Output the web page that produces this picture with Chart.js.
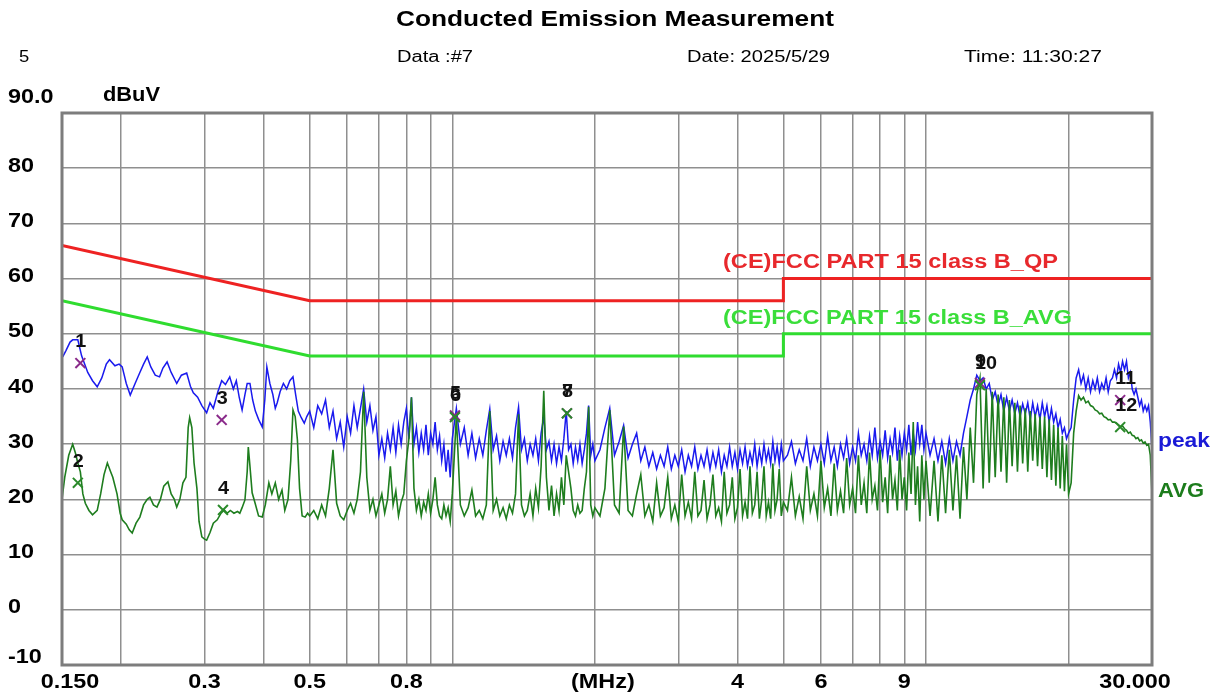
<!DOCTYPE html>
<html><head><meta charset="utf-8">
<script src="https://cdn.jsdelivr.net/npm/chart.js@4.4.0/dist/chart.umd.min.js"></script>
<style>html,body{margin:0;padding:0;background:#fff;}canvas{display:block}</style>
</head><body>
<canvas id="c" width="1217" height="695"></canvas>
<script>
// ---------- DATA ----------
const titleText = 'Conducted Emission Measurement';
const headerTexts = ['5', 'Data :#7', 'Date: 2025/5/29', 'Time: 11:30:27'];
const yUnit = 'dBuV';
const yLabelValues = [90, 80, 70, 60, 50, 40, 30, 20, 10, 0, -10];
const yLabelTexts = ['90.0', '80', '70', '60', '50', '40', '30', '20', '10', '0', '-10'];
const xGridValues = [0.2,0.3,0.4,0.5,0.6,0.7,0.8,0.9,1,2,3,4,5,6,7,8,9,10,20];
const xLabelValues = [0.15, 0.3, 0.5, 0.8, 2, 4, 6, 9, 30];
const xLabelTexts = ['0.150', '0.3', '0.5', '0.8', '(MHz)', '4', '6', '9', '30.000'];

// limit lines (MHz, dBuV)
const limitFreq = [0.15, 0.5, 5, 5, 30];
const qpLimit = [66, 56, 56, 60, 60];
const avgLimit = [56, 46, 46, 50, 50];
const qpLimitName = '(CE)FCC PART 15 class B_QP';
const avgLimitName = '(CE)FCC PART 15 class B_AVG';

// low band (0.15 - 0.5 MHz)
const peakFreqLow = [0.1505,0.153,0.156,0.158,0.162,0.165,0.170,0.174,0.178,0.182,0.186,0.189,0.194,0.198,0.201,0.205,0.209,0.214,0.219,0.223,0.227,0.231,0.236,0.241,0.245,0.250,0.255,0.262,0.268,0.275,0.280,0.284,0.290,0.296,0.303,0.308,0.313,0.320,0.326,0.332,0.339,0.345,0.350,0.355,0.360,0.365,0.369,0.374,0.379,0.384,0.390,0.397,0.402,0.406,0.412,0.418,0.423,0.427,0.433,0.440,0.447,0.454,0.461,0.467,0.473,0.480,0.487,0.493];
const peakLevelLow = [45.8,47,48.5,48.9,48.9,46,43,41.5,40.4,42,44.5,45.3,44.2,44.5,44,41,38.9,41,43,44.5,45.8,44,42.5,42.2,43.8,44.9,43,41,42.5,42.9,40.5,39.3,38.5,37,35.7,37.5,36.5,39.5,41.5,40.8,42.2,40,41.5,38.5,36.2,39,41,41,38,36,34.5,33.1,38,44,41,39,36.5,37.5,39.5,41,40,41.5,42.2,39,36,34.8,33.8,35];
const avgFreqLow = [0.150,0.152,0.155,0.158,0.160,0.162,0.164,0.166,0.168,0.171,0.174,0.178,0.181,0.184,0.187,0.190,0.192,0.196,0.199,0.201,0.205,0.208,0.211,0.215,0.219,0.223,0.227,0.230,0.234,0.238,0.242,0.246,0.251,0.255,0.259,0.262,0.266,0.270,0.274,0.277,0.279,0.282,0.285,0.289,0.292,0.296,0.300,0.303,0.308,0.313,0.319,0.325,0.330,0.335,0.340,0.346,0.352,0.356,0.360,0.365,0.369,0.371,0.374,0.378,0.383,0.390,0.397,0.403,0.410,0.416,0.423,0.430,0.437,0.443,0.450,0.456,0.461,0.466,0.471,0.476,0.482,0.489,0.495];
const avgLevelLow = [20,24,28,30,28.5,26.6,25,21,19.3,18,17.2,18,21,24.5,26.6,25,24,21,17.5,16.3,15.5,14.5,13.9,15.7,16.8,19,20,20.4,19,18.6,20,22.4,23.2,21,20,18.6,20,23,24,33,34.8,33,26.6,22,16,13.2,12.8,12.6,14,15.7,16.3,17.5,18.1,17.5,18,17.5,17.8,17.5,18.5,19.9,25,29.5,26,21.2,19.5,17,16.8,19,23,21,23,20,21.7,18,20,27,36.2,35,30.8,22,17,16.8,17.5];

// sweep (0.5 - 30 MHz), shared by peak and AVG
const sweepFreq = [
0.50,0.51,0.52,0.53,0.54,0.55,0.56,0.57,0.58,0.59,0.60,0.61,0.62,0.63,0.64,0.65,0.66,0.67,0.68,0.69,0.70,0.71,0.72,0.73,0.74,0.75,0.76,0.77,0.78,0.79,0.80,0.81,0.82,0.83,0.84,0.85,0.86,0.87,0.88,0.89,0.90,0.91,0.92,0.93,0.94,0.95,0.96,0.97,0.98,0.99,1.00,
1.02,1.04,1.06,1.08,1.10,1.12,1.14,1.16,1.18,1.20,1.22,1.24,1.26,1.28,1.30,1.32,1.34,1.36,1.38,1.40,1.42,1.44,1.46,1.48,1.50,1.52,1.54,1.56,1.58,1.60,1.62,1.64,1.66,1.68,1.70,1.72,1.74,1.76,1.78,1.80,1.82,1.84,1.86,1.88,1.90,1.92,1.94,1.96,1.98,2.00,
2.05,2.10,2.15,2.20,2.25,2.30,2.35,2.40,2.45,2.50,2.55,2.60,2.65,2.70,2.75,2.80,2.85,2.90,2.95,3.00,3.05,3.10,3.15,3.20,3.25,3.30,3.35,3.40,3.45,3.50,3.55,3.60,3.65,3.70,3.75,3.80,3.85,3.90,3.95,4.00,4.05,4.10,4.15,4.20,4.25,4.30,4.35,4.40,4.45,4.50,4.55,4.60,4.65,4.70,4.75,4.80,4.85,4.90,4.95,5.00,
5.1,5.2,5.3,5.4,5.5,5.6,5.7,5.8,5.9,6.0,6.1,6.2,6.3,6.4,6.5,6.6,6.7,6.8,6.9,7.0,7.1,7.2,7.3,7.4,7.5,7.6,7.7,7.8,7.9,8.0,8.1,8.2,8.3,8.4,8.5,8.6,8.7,8.8,8.9,9.0,9.1,9.2,9.3,9.4,9.5,9.6,9.7,9.8,9.9,10.0,
10.2,10.4,10.6,10.8,11.0,11.2,11.4,11.6,11.8,12.0,12.2,12.4,12.6,12.8,13.0,13.2,13.4,13.6,13.8,14.0,14.2,14.4,14.6,14.8,15.0,15.2,15.4,15.6,15.8,16.0,16.2,16.4,16.6,16.8,17.0,17.2,17.4,17.6,17.8,18.0,18.2,18.4,18.6,18.8,19.0,19.2,19.4,19.6,19.8,20.0,
20.25,20.50,20.75,21.00,21.25,21.50,21.75,22.00,22.25,22.50,22.75,23.00,23.25,23.50,23.75,24.00,24.25,24.50,24.75,25.00,25.25,25.50,25.75,26.00,26.25,26.50,26.75,27.00,27.25,27.50,27.75,28.00,28.25,28.50,28.75,29.00,29.25,29.50,29.75,30.00];
const peakLevelSweep = [
36,33,37,35.5,38,33,36,31,34,29.5, 35,32,37,33,36.5,40,34,37,32.5,35, 28,31,27.5,32,29,33,28.5,33.5,30,34, 36.5,31,38.5,30,33,28.5,32,29,33.5,28, 32,30,34,29,31.5,27,30,25,29,24, 31,
36.5,30,33,28,32,27.5,31,28,32.5,36.4, 29,31.5,27,30.5,28,31,27.5,33,36.7,29, 31,27,30,28,31,27,32,35,29,30.5, 27,30,26.5,29.5,27,31,36,29,30,26.5, 29.5,27,30,26.5,29,32,37,28,30,27,
29,33,36.5,28,30.5,33.4,27.5,30,32,27, 29.5,26,28.5,25.5,28,26,29.5,25.5,28,26, 29,25,28,26,29.5,25.5,28,26,29,25.5, 28.5,26,29,25,28,26,29.5,26,28.5,25.5, 29,26.5,29.5,26,28.5,26.5,30,26,29,26.5, 30,27,29,26.5,30.5,27,29.5,26.5,30,27,
28,30.5,26.5,29,27,31,26,29.5,27,30, 26.5,31.5,27,29.5,26,30,27.5,31,26.5,29.5, 27,32,28,30,27,31.5,28,33,27.5,30.5, 28,32.5,27.5,31,28.5,33,27,31.5,28,32, 29,33.5,28,32,29,34,30,33.5,29,32,
28,31,27,30.5,26.5,31,27,30.5,28,32, 35,38,40,42.5,41.5,42,40,41,38,39.5, 37,39,36,38.5,36,38,35.5,37.5,35,37.3, 35.5,37.5,34.5,37.5,35,37,34.5,37.5,35,37, 34,36.5,34,35.5,33,34.5,32,33,31,32,
33,38,42,43.5,41,42.5,40,42,39.5,41.5, 40,42,39.5,41,40,42,39.5,41.5,42,43.5, 42,44.5,43,45,43.5,45,42,43,40,39, 40,38.5,37,38,36,37,36,37,34,29];
const avgLevelSweep = [
17,18,16.5,19,17,22,29,19.3,17,16.3, 18,19.3,17.5,20,25,39.5,24,18,20,17, 19,21,17.5,20,26,19,21.5,17,19.5,21, 27,31,38.5,22,18,20,17,19.5,18,21, 17.5,20,24,19,17,16.5,19,17,18.5,16, 21,
35,19,17,18.5,21.7,17,18,16.5,19,36, 18,20,17,18.5,16.5,19,17.5,21,35.4,19, 17,18,21,17,22,18.5,26,39.7,24,18, 22.5,17,21,18,24,19,28,25,22,18, 17,19,17.5,18,22,25,36.8,19,17,18.5,
17,22,36.2,19,17.5,33.2,18,17,21,24.5, 17,19,16,23,17,18.5,24,16.5,19,16, 24.5,17,19.5,16.5,25,17,18,23.5,16.5,19, 24.5,17,18.5,16,25,17.5,19,24,16.5,18.5, 25.5,17,19.5,16.5,26,17.5,19,25,16.5,20, 26,17,19.5,16.5,26.5,18,20,25.5,17,19.5,
18,24,17,20.5,16.5,26,18,21,17,27, 18.5,22,17,26.5,18,21.5,17.5,27.5,19,22, 17.5,28,19,23,17.5,28.5,20,22.5,18,29, 19.5,24,17.5,28,20,23.5,18,29,20,24, 18,28.5,21,34,19,26,16,28,20,27,
17,27,16,28,17.5,29,18,28,16.5,29.5, 20,33,23,39,42,22,40,23,39.5,24, 39,25,38.5,23,38,26,37.5,25,37,26.5, 36.5,25,36,27,35.5,26,35,25.5,35,24, 34.5,23.5,33.5,22.5,33,22,31.5,21.5,30,21,
23,32,36,38.8,38,38.5,37.5,37.8,37,36.8, 36.2,36,35.5,35.6,35,34.8,34.4,34.5,34,34, 33.8,33.5,33.2,33.3,32.8,32.5,32,32.2,31.6,31.5, 31,31.2,30.6,30.8,30.2,30.4,29.8,30,28,21];

// markers: odd = peak reading (QP), even = AVG reading
const markerNames = ['1','2','3','4','5','6','7','8','9','10','11','12'];
const markerFreq = [0.164,0.162,0.326,0.328,1.013,1.013,1.746,1.746,13.0,13.0,25.7,25.7];
const markerLevel = [44.7,23.0,34.4,18.1,35.2,34.9,35.6,35.6,41.1,40.7,38.0,33.1];

// ---------- BUILD ----------
function pts(fx, fy){ const n = Math.min(fx.length, fy.length); const o=[]; for(let i=0;i<n;i++) o.push({x:fx[i], y:fy[i]}); return o; }
const peakPts = pts(peakFreqLow.concat(sweepFreq), peakLevelLow.concat(peakLevelSweep));
const avgPts = pts(avgFreqLow.concat(sweepFreq), avgLevelLow.concat(avgLevelSweep));
const mkPeak = [], mkAvg = [];
markerFreq.forEach((f,i)=>{ (i%2===0?mkPeak:mkAvg).push({x:f, y:markerLevel[i]}); });

const FONT = '"Liberation Sans", Arial, sans-serif';
function txt(ctx, s, x, y, o){
  ctx.save();
  ctx.font = o.font; ctx.fillStyle = o.color || '#000'; ctx.textBaseline = 'middle'; ctx.textAlign = 'left';
  const w = ctx.measureText(s).width;
  const sx = o.width ? o.width / w : (o.sx || 1);
  const tw = w * sx;
  let left = x;
  if (o.align === 'center') left = x - tw/2; else if (o.align === 'right') left = x - tw;
  ctx.translate(left, y); ctx.scale(sx, 1); ctx.fillText(s, 0, 0);
  ctx.restore();
}

const decor = {
  id: 'decor',
  afterDraw(chart){
    const {ctx, chartArea:a, scales:{x, y}} = chart;
    ctx.save(); ctx.strokeStyle = '#7d7d7d'; ctx.lineWidth = 3;
    ctx.strokeRect(a.left, a.top, a.right - a.left, a.bottom - a.top); ctx.restore();
    const B = 'bold 20px ' + FONT;
    txt(ctx, titleText, 615, 20, {font:'bold 22px ' + FONT, width:438, align:'center'});
    const hx = [19, 397, 687, 964], hw = [0, 76, 143, 138];
    headerTexts.forEach((s,i)=> txt(ctx, s, hx[i], 58, hw[i] ? {font:'16px ' + FONT, width:hw[i]} : {font:'16px ' + FONT, sx:1.15}));
    txt(ctx, yUnit, 103, 95, {font:B, width:57});
    yLabelValues.forEach((v,i)=>{
      let py = y.getPixelForValue(v) - 2;
      if (v === 90) py = a.top - 16;
      if (v === -10) py = y.getPixelForValue(v) - 8;
      txt(ctx, yLabelTexts[i], 8, py, {font:B, sx:1.17});
    });
    xLabelValues.forEach((v,i)=>{
      let px = x.getPixelForValue(v);
      if (i === 0) px += 8;
      if (i === xLabelValues.length - 1) px -= 17;
      if (xLabelTexts[i] === '(MHz)') px += 8;
      txt(ctx, xLabelTexts[i], px, 682, {font:B, sx:1.17, align:'center'});
    });
    txt(ctx, qpLimitName, 723, 262, {font:B, width:335, color:'#e8282c'});
    txt(ctx, avgLimitName, 723, 318, {font:B, width:349, color:'#3ade3a'});
    txt(ctx, 'peak', 1158, 441, {font:B, width:52, color:'#1a1ad6'});
    txt(ctx, 'AVG', 1158, 491, {font:B, width:46, color:'#1c7c1c'});
    markerNames.forEach((s,i)=>{
      const px = x.getPixelForValue(markerFreq[i]) - 5;
      const py = y.getPixelForValue(markerLevel[i]) - 21;
      txt(ctx, s, px, py, {font:'bold 18px ' + FONT, sx:1.1, color:'#111'});
    });
  }
};

const gridStyle = {color:'#8f8f8f', lineWidth:1.5, drawTicks:false};
new Chart(document.getElementById('c'), {
  type: 'line',
  data: { datasets: [
    {label:'QP limit', data: pts(limitFreq, qpLimit), borderColor:'#ee2222', borderWidth:3, pointRadius:0, order:1},
    {label:'AVG limit', data: pts(limitFreq, avgLimit), borderColor:'#2fdc2f', borderWidth:3, pointRadius:0, order:1},
    {label:'AVG', data: avgPts, borderColor:'#1e7d1e', borderWidth:1.6, pointRadius:0, order:2},
    {label:'peak', data: peakPts, borderColor:'#1a1aee', borderWidth:1.5, pointRadius:0, order:3},
    {label:'peak markers', data: mkPeak, showLine:false, pointStyle:'crossRot', pointRadius:7, pointBorderWidth:2, borderColor:'#8a2a8a', backgroundColor:'#8a2a8a', order:0},
    {label:'avg markers', data: mkAvg, showLine:false, pointStyle:'crossRot', pointRadius:7, pointBorderWidth:2, borderColor:'#2a8a2a', backgroundColor:'#2a8a2a', order:-1}
  ]},
  options: {
    responsive:false, animation:false,
    layout:{padding:{left:62, right:65, top:113, bottom:30}},
    plugins:{legend:{display:false}, tooltip:{enabled:false}},
    elements:{line:{tension:0}},
    scales:{
      x:{type:'logarithmic', min:0.15, max:30,
         afterBuildTicks:s=>{ s.ticks = xGridValues.map(v=>({value:v})); },
         afterFit:s=>{ s.height = 0; },
         ticks:{display:false}, grid:gridStyle, border:{display:false}},
      y:{type:'linear', min:-10, max:90,
         afterFit:s=>{ s.width = 0; },
         ticks:{display:false, stepSize:10}, grid:gridStyle, border:{display:false}}
    }
  },
  plugins:[decor]
});
</script>
</body></html>
